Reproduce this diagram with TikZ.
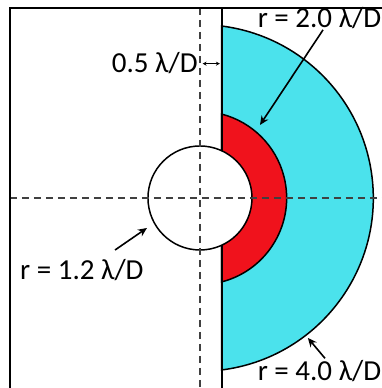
\documentclass[tikz,border=0pt]{standalone}
\usepackage{fontspec}
\setmainfont{Carlito}
\usetikzlibrary{arrows.meta,positioning}
\definecolor{ccyan}{RGB}{75,226,236}
\definecolor{cred} {RGB}{240, 18, 28}
\tikzset{
  % Text labels
  Lbl/.style={font=\fontsize{29}{32}\selectfont,inner sep=0pt},
  % Pointer arrows
  Arr/.style={-{Stealth[length=9pt,width=8pt]},line width=1.6pt},
  % Small double arrow
  DArr/.style={{Stealth[length=4pt,width=4pt]}-{Stealth[length=4pt,width=4pt]},
               line width=0.8pt},
  % Dashed axes
  Ax/.style={dash pattern=on 7pt off 5pt,line width=1.1pt,color=black!75},
}
\begin{document}
\begin{tikzpicture}[x=43.33pt,y=43.33pt]
  \useasboundingbox (-4.615,-4.385) rectangle (4.2,4.569);
  \clip (-4.615,-4.385) rectangle (4.2,4.569);
  % Outer zone, r = 4.0
  \filldraw[fill=ccyan,line width=1.5pt]
    (0.5,-3.9686) arc[start angle=-82.82,end angle=82.82,radius=4] -- cycle;
  % Inner zone, r = 2.0
  \filldraw[fill=cred,line width=1.5pt]
    (0.5,-1.9365) arc[start angle=-75.52,end angle=75.52,radius=2] -- cycle;
  % Edge at 0.5
  \draw[line width=1.8pt] (0.5,-5) -- (0.5,4.385);
  % Central circle, r = 1.2
  \filldraw[fill=white,line width=1.5pt] (0,0) circle (1.2);
  % Axes
  \draw[Ax] (-4.385,0) -- (4.3,0);
  \draw[Ax] (0,4.385) -- (0,-4.5);
  % Frame
  \draw[line width=2.4pt] (-4.385,-4.6) -- (-4.385,4.385) -- (4.6,4.385);
  % Labels
  \node[Lbl,anchor=east] at (-0.05,3.115) (l05) {0.5 λ/D};
  \node[Lbl,anchor=west] at (1.33,4.154) (l20) {r = 2.0 λ/D};
  \node[Lbl,anchor=west] at (-4.154,-1.66) (l12) {r = 1.2 λ/D};
  \node[Lbl,anchor=west] at (1.33,-4.0) (l40) {r = 4.0 λ/D};
  % Arrow ends
  \coordinate (d0) at (0.06,3.1);
  \coordinate (d1) at (0.46,3.1);
  \coordinate (a20) at (2.84,3.88);
  \coordinate (t20) at (1.385,1.685);
  \coordinate (a12) at (-1.96,-1.2);
  \coordinate (t12) at (-1.223,-0.692);
  \coordinate (a40) at (2.885,-3.70);
  \coordinate (t40) at (2.49,-3.23);
  \draw[DArr] (d0) -- (d1);
  \draw[Arr] (a20) -- (t20);
  \draw[Arr] (a12) -- (t12);
  \draw[Arr] (a40) -- (t40);
\end{tikzpicture}
\end{document}
